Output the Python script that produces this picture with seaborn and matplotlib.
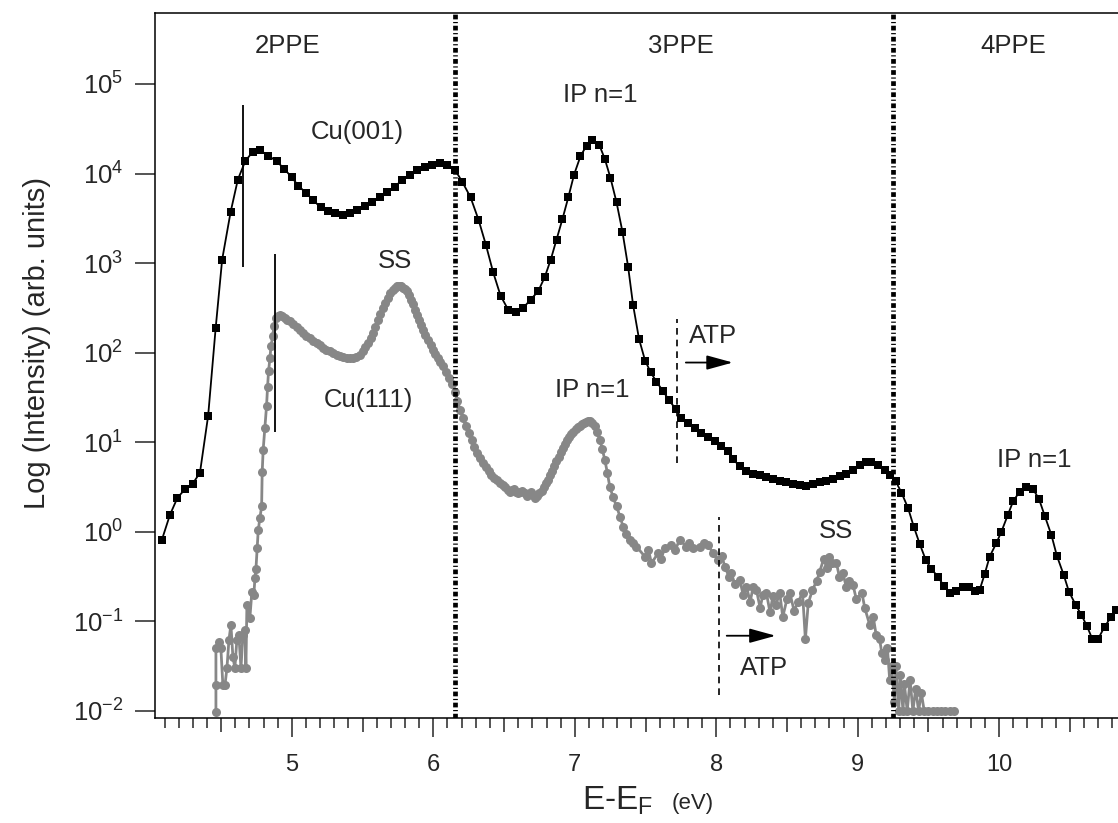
import numpy as np
import pandas as pd
import seaborn as sns
import matplotlib.pyplot as plt
from matplotlib.ticker import MultipleLocator, FixedLocator, NullLocator, FuncFormatter

# Cu(001) spectrum: energy (eV) and log10 intensity
cu001_e = [4.081, 4.138, 4.191, 4.244, 4.298, 4.350, 4.408, 4.461, 4.507, 4.567,
           4.618, 4.670, 4.724, 4.774, 4.833, 4.892, 4.946, 4.998, 5.045, 5.099,
           5.151, 5.203, 5.257, 5.304, 5.358, 5.410, 5.461, 5.516, 5.563, 5.622,
           5.673, 5.728, 5.780, 5.834, 5.886, 5.940, 5.994, 6.046, 6.100, 6.152,
           6.206, 6.263, 6.319, 6.371, 6.423, 6.475, 6.529, 6.583, 6.635, 6.687,
           6.741, 6.788, 6.830, 6.871, 6.913, 6.955, 6.995, 7.040, 7.083, 7.125,
           7.172, 7.212, 7.252, 7.295, 7.337, 7.377, 7.412, 7.454, 7.497, 7.537,
           7.577, 7.622, 7.666, 7.714, 7.754, 7.801, 7.848, 7.895, 7.942, 7.989,
           8.037, 8.083, 8.119, 8.166, 8.213, 8.260, 8.307, 8.355, 8.402, 8.449,
           8.496, 8.543, 8.590, 8.637, 8.684, 8.731, 8.779, 8.825, 8.873, 8.920,
           8.967, 9.014, 9.061, 9.097, 9.143, 9.191, 9.226, 9.269, 9.309, 9.356,
           9.396, 9.438, 9.481, 9.521, 9.567, 9.608, 9.650, 9.698, 9.744, 9.787,
           9.827, 9.862, 9.898, 9.933, 9.980, 10.016, 10.062, 10.098, 10.145, 10.192,
           10.239, 10.281, 10.322, 10.369, 10.408, 10.456, 10.493, 10.541, 10.581, 10.620,
           10.659, 10.698, 10.746, 10.793, 10.829]
cu001_log = [-0.089, 0.190, 0.380, 0.475, 0.536, 0.659, 1.296, 2.272, 3.039, 3.572,
             3.933, 4.137, 4.246, 4.260, 4.201, 4.137, 4.053, 3.959, 3.866, 3.784,
             3.702, 3.623, 3.579, 3.561, 3.542, 3.561, 3.590, 3.635, 3.679, 3.740,
             3.791, 3.851, 3.933, 3.989, 4.037, 4.075, 4.101, 4.120, 4.101, 4.045,
             3.903, 3.735, 3.486, 3.207, 2.897, 2.637, 2.480, 2.450, 2.499, 2.592,
             2.685, 2.846, 3.039, 3.263, 3.494, 3.740, 3.989, 4.193, 4.313, 4.369,
             4.324, 4.164, 3.952, 3.679, 3.349, 2.958, 2.533, 2.153, 1.911, 1.780,
             1.676, 1.575, 1.471, 1.369, 1.270, 1.215, 1.159, 1.103, 1.054, 1.009,
             0.961, 0.908, 0.812, 0.730, 0.674, 0.648, 0.629, 0.607, 0.589, 0.570,
             0.551, 0.536, 0.525, 0.517, 0.533, 0.551, 0.570, 0.589, 0.618, 0.648,
             0.693, 0.741, 0.785, 0.785, 0.749, 0.693, 0.637, 0.562, 0.439, 0.265,
             0.059, -0.134, -0.313, -0.417, -0.499, -0.603, -0.685, -0.656, -0.611, -0.611,
             -0.656, -0.648, -0.469, -0.276, -0.126, 0.003, 0.190, 0.339, 0.450, 0.506,
             0.477, 0.369, 0.179, -0.034, -0.268, -0.480, -0.667, -0.816, -0.927, -1.050,
             -1.199, -1.199, -1.058, -0.946, -0.872]

# Cu(111) spectrum: energy (eV) and log10 intensity
cu111_e = [4.463, 4.463, 4.463, 4.484, 4.498, 4.512, 4.527, 4.541, 4.555, 4.569,
           4.583, 4.597, 4.611, 4.625, 4.640, 4.654, 4.668, 4.675, 4.682, 4.703,
           4.717, 4.731, 4.739, 4.746, 4.755, 4.762, 4.774, 4.786, 4.790, 4.797,
           4.809, 4.821, 4.828, 4.835, 4.845, 4.852, 4.864, 4.873, 4.887, 4.900,
           4.915, 4.933, 4.951, 4.968, 4.986, 5.010, 5.035, 5.058, 5.080, 5.103,
           5.127, 5.151, 5.175, 5.197, 5.219, 5.244, 5.269, 5.293, 5.318, 5.340,
           5.363, 5.387, 5.410, 5.431, 5.452, 5.478, 5.504, 5.520, 5.537, 5.556,
           5.575, 5.590, 5.608, 5.626, 5.645, 5.660, 5.678, 5.697, 5.716, 5.729,
           5.742, 5.752, 5.763, 5.773, 5.784, 5.797, 5.811, 5.826, 5.841, 5.855,
           5.869, 5.883, 5.898, 5.913, 5.928, 5.944, 5.961, 5.980, 5.999, 6.015,
           6.032, 6.050, 6.069, 6.090, 6.110, 6.130, 6.150, 6.170, 6.190, 6.210,
           6.230, 6.250, 6.270, 6.290, 6.310, 6.330, 6.350, 6.370, 6.390, 6.410,
           6.430, 6.450, 6.470, 6.490, 6.510, 6.525, 6.540, 6.555, 6.570, 6.585,
           6.600, 6.615, 6.630, 6.645, 6.660, 6.675, 6.690, 6.705, 6.720, 6.735,
           6.750, 6.765, 6.780, 6.795, 6.810, 6.825, 6.840, 6.855, 6.870, 6.885,
           6.900, 6.915, 6.930, 6.945, 6.960, 6.975, 6.990, 7.005, 7.020, 7.035,
           7.050, 7.065, 7.080, 7.095, 7.110, 7.125, 7.140, 7.160, 7.177, 7.195,
           7.212, 7.230, 7.247, 7.270, 7.295, 7.320, 7.341, 7.365, 7.389, 7.410,
           7.436, 7.495, 7.52, 7.542, 7.589, 7.61, 7.636, 7.683, 7.71, 7.742,
           7.789, 7.81, 7.836, 7.883, 7.91, 7.942, 7.977, 8.013, 8.04, 8.060,
           8.09, 8.107, 8.13, 8.166, 8.19, 8.213, 8.24, 8.26, 8.284, 8.31,
           8.33, 8.355, 8.38, 8.40, 8.42, 8.449, 8.47, 8.50, 8.52, 8.55,
           8.58, 8.61, 8.63, 8.65, 8.68, 8.71, 8.73, 8.76, 8.78, 8.80,
           8.82, 8.85, 8.87, 8.895, 8.92, 8.94, 8.966, 8.99, 9.03, 9.05,
           9.085, 9.11, 9.13, 9.155, 9.17, 9.19, 9.21, 9.226, 9.24, 9.26,
           9.27, 9.29, 9.30, 9.32, 9.33, 9.35, 9.37, 9.39, 9.41, 9.43,
           9.45, 9.47, 9.50, 9.53, 9.56, 9.59, 9.62, 9.65, 9.68]
cu111_log = [-2.008, -1.715, -1.300, -1.229, -1.296, -1.709, -1.709, -1.520, -1.207, -1.039,
             -1.397, -1.520, -1.207, -1.151, -1.520, -1.151, -1.095, -1.520, -0.816, -0.961,
             -0.670, -0.704, -0.514, -0.413, -0.182, 0.015, 0.156, 0.283, 0.663, 0.916,
             1.159, 1.408, 1.617, 1.791, 1.941, 2.070, 2.182, 2.294, 2.388, 2.41,
             2.425, 2.41, 2.391, 2.37, 2.350, 2.32, 2.291, 2.255, 2.220, 2.19,
             2.162, 2.135, 2.108, 2.082, 2.056, 2.035, 2.015, 1.996, 1.978, 1.965,
             1.952, 1.945, 1.939, 1.942, 1.950, 1.975, 2.015, 2.06, 2.112, 2.165,
             2.220, 2.29, 2.369, 2.435, 2.499, 2.56, 2.615, 2.665, 2.704, 2.727,
             2.743, 2.748, 2.749, 2.74, 2.726, 2.708, 2.685, 2.64, 2.592, 2.54,
             2.480, 2.425, 2.369, 2.313, 2.257, 2.2, 2.145, 2.09, 2.034, 1.99,
             1.944, 1.897, 1.847, 1.785, 1.721, 1.645, 1.564, 1.46, 1.36, 1.27,
             1.18, 1.10, 1.02, 0.95, 0.88, 0.82, 0.77, 0.72, 0.68, 0.64,
             0.60, 0.575, 0.55, 0.52, 0.50, 0.47, 0.45, 0.47, 0.48, 0.45,
             0.43, 0.44, 0.46, 0.43, 0.40, 0.42, 0.44, 0.41, 0.38, 0.40,
             0.43, 0.46, 0.50, 0.54, 0.58, 0.63, 0.68, 0.73, 0.79, 0.84,
             0.89, 0.935, 0.98, 1.02, 1.06, 1.09, 1.12, 1.145, 1.17, 1.185,
             1.20, 1.215, 1.23, 1.235, 1.24, 1.215, 1.18, 1.11, 1.028, 0.92,
             0.804, 0.66, 0.506, 0.39, 0.283, 0.17, 0.059, -0.02, -0.089, -0.13,
             -0.164, -0.276, -0.20, -0.350, -0.238, -0.30, -0.182, -0.145, -0.20, -0.089,
             -0.164, -0.12, -0.182, -0.164, -0.13, -0.145, -0.238, -0.313, -0.27, -0.388,
             -0.50, -0.461, -0.58, -0.536, -0.70, -0.611, -0.78, -0.62, -0.648, -0.85,
             -0.70, -0.685, -0.90, -0.72, -0.82, -0.685, -0.95, -0.75, -0.68, -0.88,
             -0.78, -0.68, -1.20, -0.80, -0.648, -0.55, -0.45, -0.30, -0.40, -0.28,
             -0.35, -0.35, -0.50, -0.46, -0.62, -0.55, -0.59, -0.75, -0.685, -0.85,
             -1.04, -0.95, -1.15, -1.20, -1.35, -1.43, -1.30, -1.65, -1.50, -1.90,
             -1.50, -2.00, -1.60, -2.00, -1.70, -2.00, -1.65, -2.00, -1.75, -2.00,
             -1.80, -2.00, -2.00, -2.00, -2.00, -2.00, -2.00, -2.00, -2.00]

# photoemission order regions and their boundaries
region_names = ['2PPE', '3PPE', '4PPE']
region_x = [4.97, 7.75, 10.10]
boundary_x = [6.15, 9.25]
y_decades = [-2, -1, 0, 1, 2, 3, 4, 5]

GRAY = '#878787'

sns.set_style('ticks')
plt.rcParams['font.family'] = ['Liberation Sans', 'DejaVu Sans']
plt.rcParams['axes.unicode_minus'] = False
plt.rcParams['mathtext.fontset'] = 'custom'
plt.rcParams['mathtext.rm'] = 'Liberation Sans'
plt.rcParams['mathtext.sf'] = 'Liberation Sans'

fig = plt.figure(figsize=(11.18, 8.23), dpi=100)
ax = fig.add_axes([0.1386, 0.1276, 0.8614, 0.8566])

df111 = pd.DataFrame({'E': cu111_e, 'I': 10 ** np.array(cu111_log)})
df001 = pd.DataFrame({'E': cu001_e, 'I': 10 ** np.array(cu001_log)})

sns.lineplot(data=df111, x='E', y='I', ax=ax, sort=False, estimator=None,
             color=GRAY, lw=2, marker='o', markersize=6.5, markeredgewidth=0, zorder=2)
sns.lineplot(data=df001, x='E', y='I', ax=ax, sort=False, estimator=None,
             color='black', lw=1.3, marker='s', markersize=5.8, markeredgewidth=0, zorder=3)

ax.set_yscale('log')
ax.set_xlim(4.032, 10.84)
ax.set_ylim(0.00835, 6.2e5)

# region boundaries (thick dash-dot)
for bx in boundary_x:
    ax.axvline(bx, color='black', lw=3.4, ls=(0, (1.0, 0.55, 0.25, 0.55)), zorder=4)

# onset markers
ax.vlines(4.654, 10 ** 2.96, 10 ** 4.76, color='black', lw=1.3, zorder=4)
ax.vlines(4.880, 10 ** 1.117, 10 ** 3.106, color='black', lw=1.3, zorder=4)

# ATP thresholds
ax.vlines(7.72, 10 ** 0.77, 10 ** 2.38, color='black', lw=1.2, linestyles=(0, (4, 3)), zorder=4)
ax.vlines(8.018, 10 ** -1.82, 10 ** 0.168, color='black', lw=1.2, linestyles=(0, (4, 3)), zorder=4)
arrow = dict(arrowstyle='-|>,head_length=0.8,head_width=0.22', color='black', lw=1.3,
             mutation_scale=20, shrinkA=0, shrinkB=0)
ax.annotate('', xy=(8.117, 10 ** 1.89), xytext=(7.785, 10 ** 1.89), arrowprops=arrow)
ax.annotate('', xy=(8.42, 10 ** -1.16), xytext=(8.074, 10 ** -1.16), arrowprops=arrow)

fs = 18.5
for name, rx in zip(region_names, region_x):
    ax.text(rx, 10 ** 5.42, name, fontsize=fs, ha='center', va='center')
ax.text(5.46, 10 ** 4.46, 'Cu(001)', fontsize=fs, ha='center', va='center')
ax.text(5.73, 10 ** 3.02, 'SS', fontsize=fs, ha='center', va='center')
ax.text(5.54, 10 ** 1.47, 'Cu(111)', fontsize=fs, ha='center', va='center')
ax.text(7.18, 10 ** 4.88, 'IP n=1', fontsize=fs, ha='center', va='center')
ax.text(7.12, 10 ** 1.58, 'IP n=1', fontsize=fs, ha='center', va='center')
ax.text(7.98, 10 ** 2.19, 'ATP', fontsize=fs, ha='center', va='center')
ax.text(8.34, 10 ** -1.52, 'ATP', fontsize=fs, ha='center', va='center')
ax.text(8.845, 10 ** 0.01, 'SS', fontsize=fs, ha='center', va='center')
ax.text(10.25, 10 ** 0.80, 'IP n=1', fontsize=fs, ha='center', va='center')

# axes styling
for s in ['left', 'top', 'bottom']:
    ax.spines[s].set_linewidth(1.1)
    ax.spines[s].set_color('black')
ax.spines['right'].set_visible(False)

ax.yaxis.set_major_locator(FixedLocator([10.0 ** d for d in y_decades]))
ax.yaxis.set_major_formatter(FuncFormatter(lambda v, p: r'$\mathregular{10^{%d}}$' % round(np.log10(v))))
ax.yaxis.set_minor_locator(NullLocator())
ax.tick_params(axis='y', which='major', direction='out', length=14.4, width=1.1,
               labelsize=18.5, pad=8.5, right=False)

# x ticks: major every 0.5 (labels on integers only), minor every 0.1
ax.xaxis.set_major_locator(FixedLocator(np.arange(4.5, 10.9, 0.5)))
ax.xaxis.set_major_formatter(FuncFormatter(lambda v, p: f'{v:.0f}' if abs(v - round(v)) < 1e-6 else ''))
ax.xaxis.set_minor_locator(MultipleLocator(0.1))
ax.tick_params(axis='x', which='major', direction='out', length=13.7, width=1.1,
               labelsize=17, pad=12, top=False)
ax.tick_params(axis='x', which='minor', direction='out', length=7.2, width=1.1, top=False)

ax.set_xlabel('')
ax.set_ylabel('')
fig.canvas.draw()
for t, loc in zip(ax.xaxis.get_major_ticks(), ax.xaxis.get_majorticklocs()):
    if abs(loc - round(loc)) > 1e-6:
        t.tick1line.set_markersize(10)

fig.text(582 / 1118, 1 - 809 / 823, r'E-E$_{\mathregular{F}}$', fontsize=24, ha='left', va='baseline')
fig.text(672 / 1118, 1 - 809 / 823, '(eV)', fontsize=16, ha='left', va='baseline')
fig.text(37 / 1118, 1 - 343 / 823, 'Log (Intensity) (arb. units)', fontsize=21,
         rotation=90, ha='center', va='center')

fig.savefig('out.png', dpi=100)
